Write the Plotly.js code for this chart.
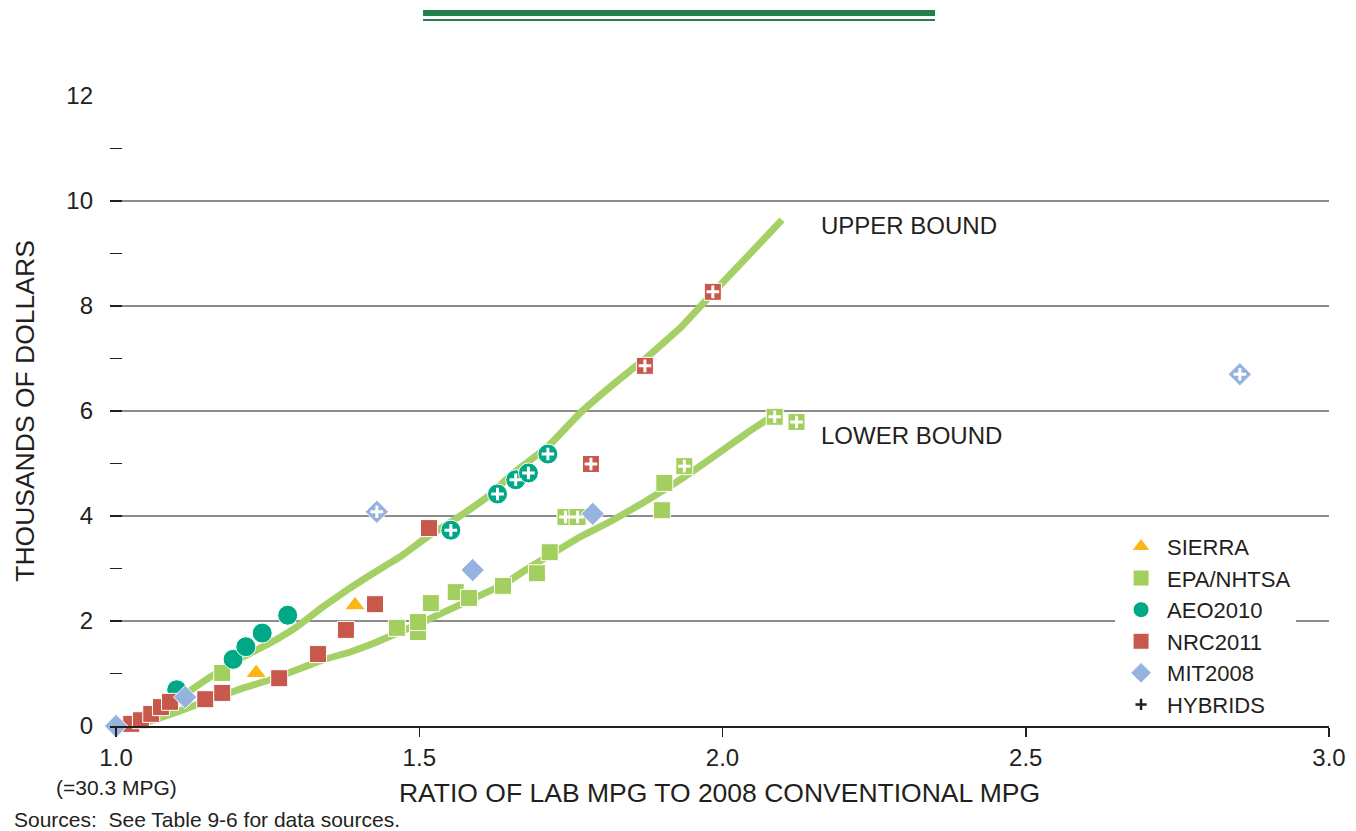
<!DOCTYPE html>
<html>
<head>
<meta charset="utf-8">
<script src="https://cdn.plot.ly/plotly-3.0.1.min.js"></script>
<style>html,body{margin:0;padding:0;background:#fff;}#chart{width:1356px;height:831px;}</style>
</head>
<body>
<div id="chart"></div>
<script>
// ---- data ----
const upperX = [1.002, 1.073, 1.117, 1.155, 1.209, 1.254, 1.298, 1.341, 1.386, 1.424, 1.468, 1.513, 1.562, 1.612, 1.655, 1.711, 1.765, 1.819, 1.876, 1.930, 1.984, 2.040, 2.098];
const upperY = [0.0, 0.27, 0.63, 0.93, 1.31, 1.58, 1.89, 2.27, 2.63, 2.91, 3.22, 3.60, 3.96, 4.36, 4.82, 5.31, 5.96, 6.50, 7.03, 7.58, 8.25, 8.93, 9.64];
const lowerX = [1.023, 1.045, 1.101, 1.155, 1.209, 1.254, 1.298, 1.341, 1.386, 1.430, 1.468, 1.513, 1.556, 1.595, 1.638, 1.683, 1.765, 1.819, 1.876, 1.930, 1.984, 2.040, 2.078];
const lowerY = [0.02, 0.06, 0.27, 0.50, 0.72, 0.88, 1.07, 1.26, 1.41, 1.60, 1.79, 2.02, 2.25, 2.46, 2.69, 3.03, 3.60, 3.92, 4.30, 4.69, 5.12, 5.58, 5.87];

const sierraX = [1.231, 1.394];
const sierraY = [1.01, 2.30];

const epaX = [1.175, 1.463, 1.498, 1.498, 1.519, 1.560, 1.582, 1.638, 1.694, 1.715, 1.900, 1.904];
const epaY = [1.01, 1.87, 1.79, 1.98, 2.34, 2.55, 2.44, 2.67, 2.91, 3.31, 4.11, 4.63];
const epaHybX = [1.741, 1.761, 1.937, 2.086, 2.122];
const epaHybY = [3.98, 3.98, 4.95, 5.89, 5.79];

const aeoX = [1.100, 1.193, 1.214, 1.241, 1.283];
const aeoY = [0.69, 1.27, 1.51, 1.77, 2.11];
const aeoHybX = [1.552, 1.629, 1.659, 1.680, 1.712];
const aeoHybY = [3.73, 4.42, 4.69, 4.82, 5.18];

const nrcX = [1.025, 1.041, 1.058, 1.074, 1.089, 1.147, 1.175, 1.269, 1.333, 1.379, 1.427, 1.516];
const nrcY = [0.04, 0.11, 0.23, 0.36, 0.46, 0.51, 0.63, 0.91, 1.37, 1.83, 2.32, 3.77];
const nrcHybX = [1.783, 1.872, 1.984];
const nrcHybY = [4.99, 6.86, 8.27];

const mitX = [1.000, 1.114, 1.588, 1.786];
const mitY = [0.0, 0.55, 2.97, 4.04];
const mitHybX = [1.430, 2.853];
const mitHybY = [4.08, 6.70];

const xTickVals = [1.0, 1.5, 2.0, 2.5, 3.0];
const xTickText = ['1.0', '1.5', '2.0', '2.5', '3.0'];
const yTickVals = [0, 2, 4, 6, 8, 10, 12];

// ---- styles ----
const FONT = 'Liberation Sans, Arial, Helvetica, sans-serif';
const TXT = '#231F20';
const CURVE = '#A4D065';
const C_SIERRA = '#FDB515';
const C_EPA = '#A3CF5F';
const C_AEO = '#00A886';
const C_NRC = '#C8584C';
const C_MIT = '#95B3DE';
const outline = {color: '#ffffff', width: 1};

function pts(name, x, y, color, symbol, size, rank) {
  return {type: 'scatter', mode: 'markers', name: name, x: x, y: y, cliponaxis: false,
    legendrank: rank, hoverinfo: 'x+y+name',
    marker: {color: color, symbol: symbol, size: size, line: outline}};
}

const traces = [
  {type: 'scatter', mode: 'lines', x: upperX, y: upperY, showlegend: false, hoverinfo: 'skip',
   line: {color: CURVE, width: 7, shape: 'spline', smoothing: 0.3}},
  {type: 'scatter', mode: 'lines', x: lowerX, y: lowerY, showlegend: false, hoverinfo: 'skip',
   line: {color: CURVE, width: 7, shape: 'spline', smoothing: 0.3}},
  pts('EPA/NHTSA', epaX.concat(epaHybX), epaY.concat(epaHybY), C_EPA, 'square', 17, 2),
  pts('AEO2010', aeoX.concat(aeoHybX), aeoY.concat(aeoHybY), C_AEO, 'circle', 20, 3),
  pts('SIERRA', sierraX, sierraY, C_SIERRA, 'triangle-up', 18, 1),
  pts('NRC2011', nrcX.concat(nrcHybX), nrcY.concat(nrcHybY), C_NRC, 'square', 17, 4),
  pts('MIT2008', mitX.concat(mitHybX), mitY.concat(mitHybY), C_MIT, 'diamond', 18, 5),
  {type: 'scatter', mode: 'markers', showlegend: false, cliponaxis: false, hoverinfo: 'skip',
   x: [].concat(epaHybX, aeoHybX, nrcHybX, mitHybX),
   y: [].concat(epaHybY, aeoHybY, nrcHybY, mitHybY),
   marker: {symbol: 'cross-thin', size: 9, color: '#ffffff', line: {color: '#ffffff', width: 3}}},
  {type: 'scatter', mode: 'markers', name: 'HYBRIDS', x: [null], y: [null], legendrank: 6,
   marker: {symbol: 'cross-thin', size: 8, color: TXT, line: {color: TXT, width: 2.5}}}
];

const layout = {
  width: 1356, height: 831,
  margin: {l: 110, r: 27, t: 96, b: 105},
  paper_bgcolor: '#ffffff', plot_bgcolor: '#ffffff',
  font: {family: FONT, color: TXT, size: 22},
  showlegend: true,
  legend: {x: 0.8245, xanchor: 'left', y: 0.318, yanchor: 'top', bgcolor: '#ffffff',
    font: {family: FONT, size: 22, color: TXT}, itemsizing: 'trace', itemwidth: 42, tracegroupgap: 0},
  xaxis: {
    range: [0.99, 3.0], tickvals: xTickVals, ticktext: xTickText,
    showgrid: false, zeroline: false, showline: true, linecolor: TXT, linewidth: 2,
    ticks: 'outside', ticklen: 9, tickwidth: 1.5, tickcolor: TXT,
    tickfont: {family: FONT, size: 24, color: TXT},
    title: {text: 'RATIO OF LAB MPG TO 2008 CONVENTIONAL MPG', font: {family: FONT, size: 26.5, color: TXT}, standoff: 14},
    fixedrange: true
  },
  yaxis: {
    range: [0, 12], tickvals: yTickVals,
    showgrid: true, gridcolor: '#8c8c8c', gridwidth: 1.5, zeroline: false, showline: false,
    ticks: 'inside', ticklen: 12, tickwidth: 1.5, tickcolor: TXT,
    minor: {dtick: 1, tick0: 0, ticks: 'inside', ticklen: 12, tickwidth: 1.5, tickcolor: TXT, showgrid: false},
    ticklabelstandoff: 16,
    tickfont: {family: FONT, size: 24, color: TXT},
    title: {text: 'THOUSANDS OF DOLLARS', font: {family: FONT, size: 26.5, color: TXT}, standoff: 24},
    fixedrange: true
  },
  annotations: [
    {text: 'UPPER BOUND', xref: 'x', yref: 'y', x: 2.159, y: 9.54, xanchor: 'left', yanchor: 'middle', showarrow: false,
     font: {family: FONT, size: 24, color: TXT}},
    {text: 'LOWER BOUND', xref: 'x', yref: 'y', x: 2.159, y: 5.54, xanchor: 'left', yanchor: 'middle', showarrow: false,
     font: {family: FONT, size: 24, color: TXT}},
    {text: '(=30.3 MPG)', xref: 'x', yref: 'paper', x: 1.0, y: -0.097, xanchor: 'center', yanchor: 'middle', showarrow: false,
     font: {family: FONT, size: 21, color: TXT}},
    {text: 'Sources:\u00a0 See Table 9-6 for data sources.', xref: 'paper', yref: 'paper', x: -0.08, y: -0.149,
     xanchor: 'left', yanchor: 'middle', showarrow: false, font: {family: FONT, size: 21, color: TXT}}
  ],
  shapes: [
    {type: 'rect', xref: 'paper', yref: 'paper', x0: 0.2568, x1: 0.6768, y0: 1.127, y1: 1.1365,
     fillcolor: '#22804A', line: {width: 0}},
    {type: 'rect', xref: 'paper', yref: 'paper', x0: 0.2568, x1: 0.6768, y0: 1.119, y1: 1.1222,
     fillcolor: '#22804A', line: {width: 0}}
  ]
};

Plotly.newPlot('chart', traces, layout, {displayModeBar: false, staticPlot: true});
</script>
</body>
</html>
